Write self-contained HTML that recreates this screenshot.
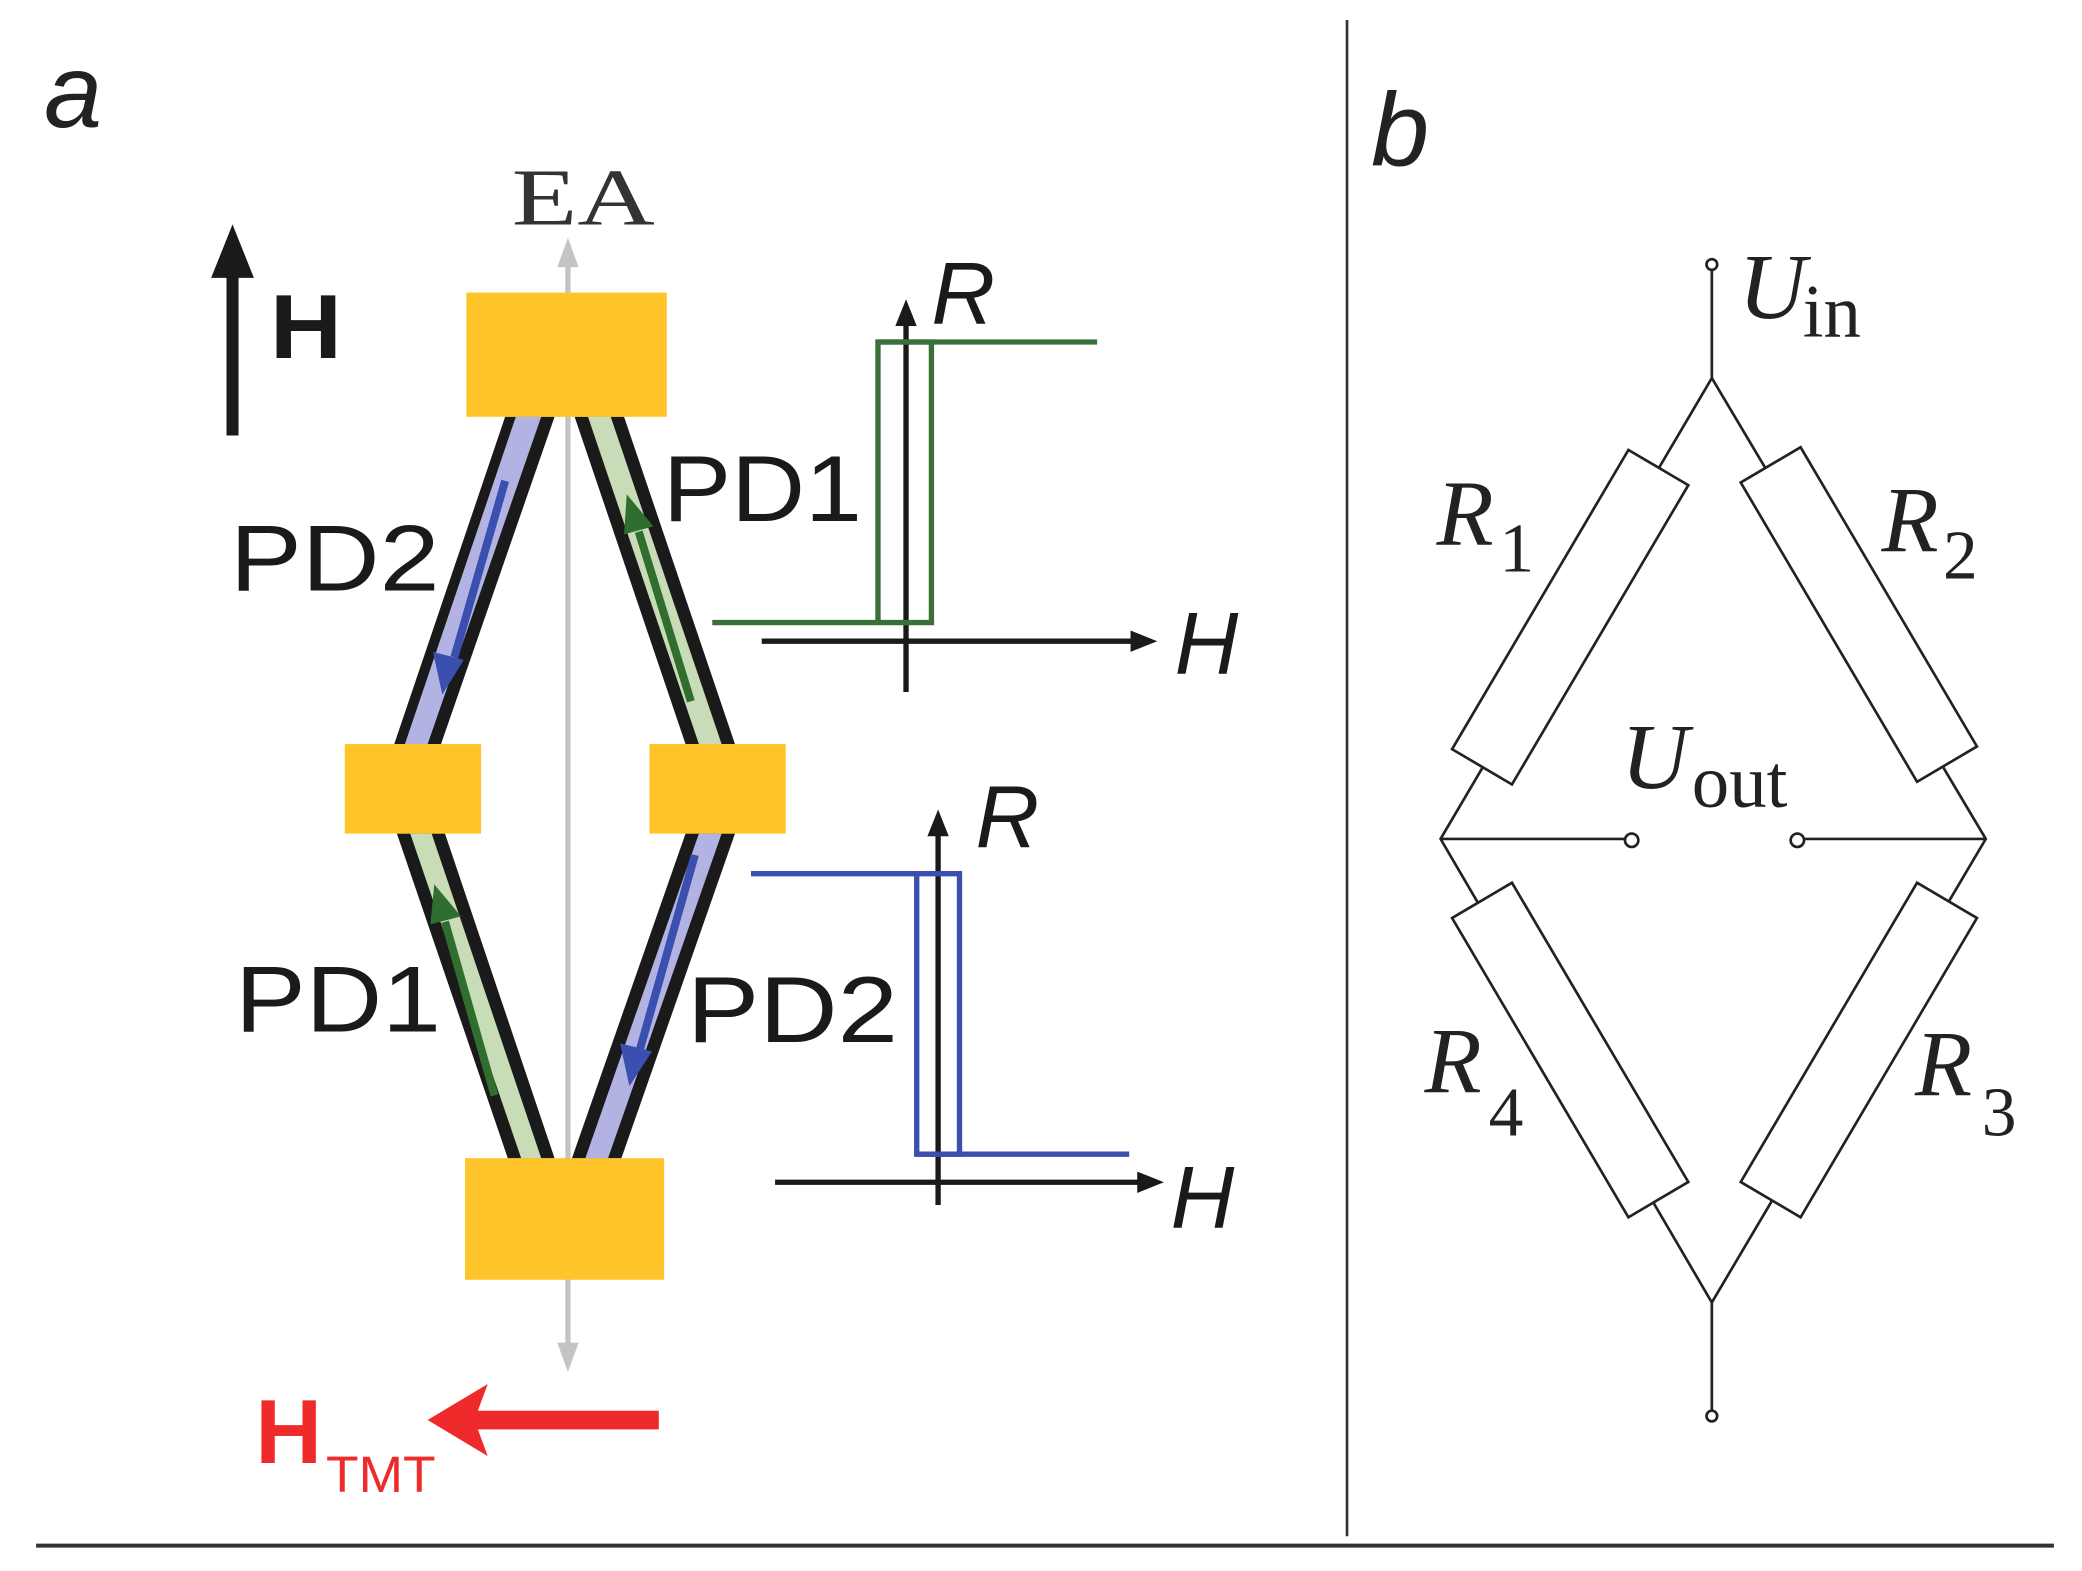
<!DOCTYPE html>
<html><head><style>html,body{margin:0;padding:0;background:#fff}svg{display:block}</style></head>
<body>
<svg width="2082" height="1571" viewBox="0 0 1558 1176" preserveAspectRatio="none" xmlns="http://www.w3.org/2000/svg">
<rect width="1558" height="1176" fill="#fff"/>
<line x1="1008" y1="15" x2="1008" y2="1150" stroke="#333" stroke-width="2"/>
<line x1="27" y1="1157" x2="1537" y2="1157" stroke="#333" stroke-width="3"/>
<text x="33" y="95" font-family="Liberation Sans, sans-serif" font-style="italic" font-size="78" fill="#222">a</text>
<text x="1026" y="124" font-family="Liberation Sans, sans-serif" font-style="italic" font-size="78" fill="#222">b</text>

<!-- EA axis -->
<text x="383" y="168" font-family="Liberation Serif, serif" font-size="60" fill="#333" textLength="107" lengthAdjust="spacingAndGlyphs">EA</text>
<line x1="425" y1="195" x2="425" y2="1010" stroke="#c4c4c4" stroke-width="4"/>
<path d="M425,178 L417,200 L433,200 Z" fill="#c4c4c4"/>
<path d="M425,1027 L417,1005 L433,1005 Z" fill="#c4c4c4"/>

<!-- strips -->
<polygon points="378,312 415,312 330,557 295,557" fill="#1a1a1a"/>
<polygon points="386,312 405,312 320,557 303,557" fill="#b3b3e3"/>
<polygon points="430,312 467,312 550,557 513,557" fill="#1a1a1a"/>
<polygon points="440,312 457,312 540,557 523,557" fill="#c8dcb8"/>
<polygon points="297,624 333,624 415,867 380,867" fill="#1a1a1a"/>
<polygon points="307,624 323,624 405,867 390,867" fill="#c8dcb8"/>
<polygon points="513,624 550,624 465,867 428,867" fill="#1a1a1a"/>
<polygon points="523,624 540,624 455,867 438,867" fill="#b3b3e3"/>
<!-- inner arrows -->
<line x1="378" y1="360" x2="340" y2="492" stroke="#3a4fae" stroke-width="6"/>
<path d="M331,520 L324,488 L347,494 Z" fill="#3a4fae"/>
<line x1="517" y1="525" x2="478" y2="398" stroke="#2f6e2f" stroke-width="6"/>
<path d="M469,370 L489,394 L467,400 Z" fill="#2f6e2f"/>
<line x1="370" y1="820" x2="333" y2="690" stroke="#2f6e2f" stroke-width="6"/>
<path d="M325,662 L345,686 L322,692 Z" fill="#2f6e2f"/>
<line x1="520" y1="640" x2="479" y2="785" stroke="#3a4fae" stroke-width="6"/>
<path d="M471,813 L464,781 L488,787 Z" fill="#3a4fae"/>

<!-- pads -->
<rect x="349" y="219" width="150" height="93" fill="#fec42a"/>
<rect x="258" y="557" width="102" height="67" fill="#fec42a"/>
<rect x="486" y="557" width="102" height="67" fill="#fec42a"/>
<rect x="348" y="867" width="149" height="91" fill="#fec42a"/>

<g font-family="Liberation Sans, sans-serif" font-size="70" fill="#1a1a1a" lengthAdjust="spacingAndGlyphs">
<text x="172" y="442" textLength="157" lengthAdjust="spacingAndGlyphs">PD2</text>
<text x="496" y="390" textLength="149" lengthAdjust="spacingAndGlyphs">PD1</text>
<text x="176" y="772" textLength="154" lengthAdjust="spacingAndGlyphs">PD1</text>
<text x="514" y="780" textLength="158" lengthAdjust="spacingAndGlyphs">PD2</text>
</g>

<!-- H arrow -->
<line x1="174" y1="326" x2="174" y2="200" stroke="#1a1a1a" stroke-width="9"/>
<path d="M174,168 L158,208 L190,208 Z" fill="#1a1a1a"/>
<text x="202" y="268" font-family="Liberation Sans, sans-serif" font-weight="bold" font-size="68" fill="#1a1a1a" textLength="54" lengthAdjust="spacingAndGlyphs">H</text>

<!-- red arrow -->
<line x1="493" y1="1063" x2="355" y2="1063" stroke="#ee2a2a" stroke-width="14"/>
<path d="M320,1063 L365,1036 L355,1063 L365,1090 Z" fill="#ee2a2a"/>
<text x="191" y="1095" font-family="Liberation Sans, sans-serif" font-weight="bold" font-size="68" fill="#ee2a2a" textLength="50" lengthAdjust="spacingAndGlyphs">H</text>
<text x="244" y="1117" font-family="Liberation Sans, sans-serif" font-size="38" fill="#ee2a2a" textLength="82" lengthAdjust="spacingAndGlyphs">TMT</text>

<!-- graph 1 -->
<line x1="678" y1="518" x2="678" y2="240" stroke="#1a1a1a" stroke-width="4"/>
<path d="M678,224 L670,244 L686,244 Z" fill="#1a1a1a"/>
<line x1="570" y1="480" x2="848" y2="480" stroke="#1a1a1a" stroke-width="4"/>
<path d="M866,480 L846,472 L846,488 Z" fill="#1a1a1a"/>
<polyline points="533,466 697,466 697,256 657,256 657,466" fill="none" stroke="#3a6e3a" stroke-width="4"/>
<line x1="657" y1="256" x2="821" y2="256" stroke="#3a6e3a" stroke-width="4"/>
<g font-family="Liberation Sans, sans-serif" font-style="italic" font-size="66" fill="#1a1a1a">
<text x="697" y="242">R</text>
<text x="879" y="504">H</text>
<text x="730" y="634">R</text>
<text x="876" y="919">H</text>
</g>

<!-- graph 2 -->
<line x1="702" y1="902" x2="702" y2="622" stroke="#1a1a1a" stroke-width="4"/>
<path d="M702,606 L694,626 L710,626 Z" fill="#1a1a1a"/>
<line x1="580" y1="885" x2="853" y2="885" stroke="#1a1a1a" stroke-width="4"/>
<path d="M871,885 L851,877 L851,893 Z" fill="#1a1a1a"/>
<polyline points="562,654 718,654 718,864 686,864 686,654" fill="none" stroke="#3a4fae" stroke-width="4"/>
<line x1="686" y1="864" x2="845" y2="864" stroke="#3a4fae" stroke-width="4"/>

<!-- circuit -->
<g stroke="#222" stroke-width="2" fill="none">
<line x1="1281" y1="202" x2="1281" y2="283"/>
<circle cx="1281" cy="198" r="4" fill="#fff"/>
<polygon points="1281,283 1078,628 1281,975 1486,628"/>
<line x1="1281" y1="975" x2="1281" y2="1056"/>
<circle cx="1281" cy="1060" r="4" fill="#fff"/>
<line x1="1078" y1="628" x2="1216" y2="628"/>
<circle cx="1221" cy="629" r="5" fill="#fff"/>
<line x1="1350" y1="628" x2="1486" y2="628"/>
<circle cx="1345" cy="629" r="5" fill="#fff"/>
<rect x="-26" y="-130" width="52" height="260" fill="#fff" transform="translate(1175,462) rotate(30.5)"/>
<rect x="-26" y="-130" width="52" height="260" fill="#fff" transform="translate(1391,460) rotate(-30.5)"/>
<rect x="-26" y="-130" width="52" height="260" fill="#fff" transform="translate(1175,786) rotate(-30.5)"/>
<rect x="-26" y="-130" width="52" height="260" fill="#fff" transform="translate(1391,786) rotate(30.5)"/>
</g>
<g font-family="Liberation Serif, serif" fill="#222">
<text x="1301" y="238" font-style="italic" font-size="70">U</text>
<text x="1349" y="252" font-size="56">in</text>
<text x="1075" y="408" font-style="italic" font-size="70">R</text>
<text x="1122" y="428" font-size="52">1</text>
<text x="1408" y="413" font-style="italic" font-size="70">R</text>
<text x="1454" y="433" font-size="52">2</text>
<text x="1213" y="590" font-style="italic" font-size="70">U</text>
<text x="1266" y="604" font-size="56">out</text>
<text x="1066" y="818" font-style="italic" font-size="70">R</text>
<text x="1114" y="850" font-size="52">4</text>
<text x="1433" y="820" font-style="italic" font-size="70">R</text>
<text x="1483" y="850" font-size="52">3</text>
</g>
</svg>
</body></html>
